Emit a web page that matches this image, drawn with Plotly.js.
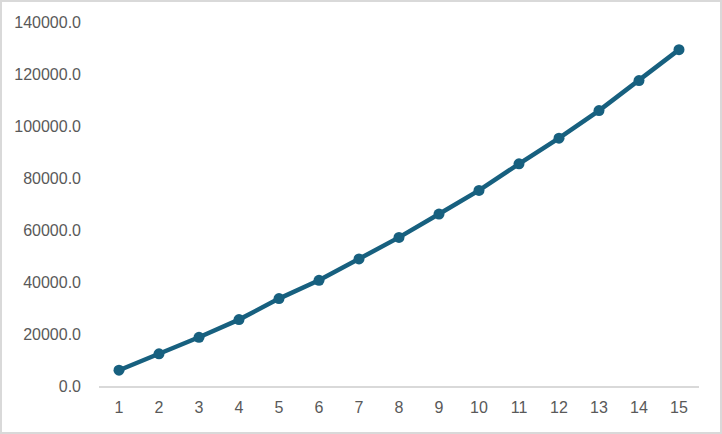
<!DOCTYPE html>
<html>
<head>
<meta charset="utf-8">
<script src="https://cdn.plot.ly/plotly-3.0.1.min.js"></script>
<style>
html,body{margin:0;padding:0;background:#fff;}
#wrap{position:relative;width:722px;height:434px;}
#chart{width:722px;height:434px;}
#frame{position:absolute;left:0;top:0;width:722px;height:434px;box-sizing:border-box;border:2px solid #d9d9d9;pointer-events:none;}
</style>
</head>
<body>
<div id="wrap"><div id="chart"></div><div id="frame"></div></div>
<script>
const categories = ["1","2","3","4","5","6","7","8","9","10","11","12","13","14","15"];
const values = [6070, 12370, 18740, 25540, 33610, 40640, 48860, 57150, 66140, 75210, 85460, 95330, 105940, 117460, 129370];
const yTicks = [0, 20000, 40000, 60000, 80000, 100000, 120000, 140000];

const trace = {
  x: categories,
  y: values,
  type: 'scatter',
  mode: 'lines+markers',
  line: {color: '#17607f', width: 4.5},
  marker: {color: '#17607f', size: 11},
  hoverinfo: 'none'
};

const layout = {
  width: 722,
  height: 434,
  margin: {l: 99, r: 23, t: 22, b: 47.5},
  paper_bgcolor: '#ffffff',
  plot_bgcolor: '#ffffff',
  showlegend: false,
  font: {family: 'Liberation Sans, Arial, sans-serif', size: 16, color: '#595959'},
  xaxis: {
    type: 'category',
    range: [-0.5, 14.5],
    showgrid: false,
    zeroline: false,
    showline: true,
    linecolor: '#d9d9d9',
    linewidth: 1.5,
    ticks: '',
    tickfont: {size: 16, color: '#595959'},
    ticklabelstandoff: 6
  },
  yaxis: {
    range: [0, 140000],
    tickvals: yTicks,
    tickformat: '.1f',
    showgrid: false,
    zeroline: false,
    showline: false,
    ticks: '',
    ticklabelstandoff: 17,
    tickfont: {size: 16, color: '#595959'}
  }
};

Plotly.newPlot('chart', [trace], layout, {displayModeBar: false, staticPlot: true});
</script>
</body>
</html>
